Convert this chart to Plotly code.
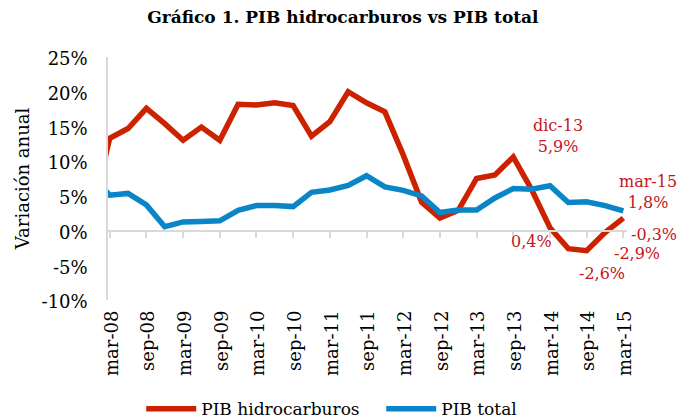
import plotly.graph_objects as go

# Quarterly periods (dic-07 lies just outside the visible axis range)
quarters = ["dic-07",
            "mar-08", "jun-08", "sep-08", "dic-08",
            "mar-09", "jun-09", "sep-09", "dic-09",
            "mar-10", "jun-10", "sep-10", "dic-10",
            "mar-11", "jun-11", "sep-11", "dic-11",
            "mar-12", "jun-12", "sep-12", "dic-12",
            "mar-13", "jun-13", "sep-13", "dic-13",
            "mar-14", "jun-14", "sep-14", "dic-14",
            "mar-15"]

pib_hidrocarburos = [2.0,
                     13.3, 14.7, 17.6, 15.4,
                     13.0, 14.9, 13.0, 18.2,
                     18.1, 18.4, 18.0, 13.6,
                     15.7, 20.0, 18.4, 17.1,
                     10.9, 4.1, 1.8, 2.9,
                     7.5, 8.0, 10.6, 5.9,
                     0.4, -2.6, -2.9, -0.3,
                     1.8]

pib_total = [8.0,
             5.1, 5.35, 3.7, 0.55,
             1.25, 1.3, 1.4, 2.9,
             3.6, 3.6, 3.45, 5.5,
             5.85, 6.5, 7.9, 6.3,
             5.8, 5.0, 2.6, 2.95,
             2.95, 4.7, 6.05, 5.95,
             6.45, 4.05, 4.15, 3.6,
             2.85]

x_idx = list(range(len(quarters)))
tick_idx = [i for i, q in enumerate(quarters) if q[:3] in ("mar", "sep")]
tick_txt = [quarters[i] for i in tick_idx]

y_vals = [-10, -5, 0, 5, 10, 15, 20, 25]
y_txt = [f"{v}%" for v in y_vals]

RED = "#CC2200"
BLUE = "#0A86C8"
LABEL_RED = "#C3161C"
FONT = "DejaVu Serif"

def fmt(v):
    return f"{v:.1f}%".replace(".", ",")

fig = go.Figure()
fig.add_trace(go.Scatter(x=x_idx, y=pib_hidrocarburos, mode="lines", name="PIB hidrocarburos",
                         line=dict(color=RED, width=5.5)))
fig.add_trace(go.Scatter(x=x_idx, y=pib_total, mode="lines", name="PIB total",
                         line=dict(color=BLUE, width=5.5)))
# empty trace to carry the zero-crossing category axis
fig.add_trace(go.Scatter(x=[], y=[], xaxis="x2", showlegend=False, hoverinfo="skip"))

xr = [0.907, 29.2]
ymin, ymax = -10, 25

# data labels
n = len(quarters)
i_dic13 = quarters.index("dic-13")
i_last = n - 1
annos = []
annos.append(dict(x=i_dic13, y=pib_hidrocarburos[i_dic13],
                  text=f"{quarters[i_dic13]}<br>{fmt(pib_hidrocarburos[i_dic13])}",
                  xshift=26, yshift=54))
annos.append(dict(x=i_last, y=pib_hidrocarburos[i_last],
                  text=f"{quarters[i_last]}<br>{fmt(pib_hidrocarburos[i_last])}",
                  xshift=25, yshift=26))
offsets = {"mar-14": (-18, -14), "jun-14": (34, -25), "sep-14": (50, -3), "dic-14": (49, -2)}
for q, (dx, dy) in offsets.items():
    i = quarters.index(q)
    annos.append(dict(x=i, y=pib_hidrocarburos[i], text=fmt(pib_hidrocarburos[i]),
                      xshift=dx, yshift=dy))
for a in annos:
    a.update(xref="x", yref="y", showarrow=False,
             font=dict(family=FONT, size=16, color=LABEL_RED),
             xanchor="center", yanchor="middle")

fig.update_layout(
    width=679, height=419,
    margin=dict(l=108, r=52, t=57, b=119, autoexpand=False),
    paper_bgcolor="white", plot_bgcolor="white",
    font=dict(family=FONT, size=18, color="black"),
    title=dict(text="<b>Gráfico 1. PIB hidrocarburos vs PIB total</b>",
               x=0.505, xref="container", xanchor="center",
               y=1 - 17 / 419, yref="container", yanchor="middle",
               font=dict(family=FONT, size=17, color="black")),
    xaxis=dict(range=xr, tickmode="array", tickvals=tick_idx, ticktext=tick_txt,
               tickangle=-90, showgrid=False, zeroline=False, showline=False,
               ticks="", ticklabelstandoff=6, ticklabelshift=2, tickfont=dict(size=18)),
    xaxis2=dict(range=xr, overlaying="x", anchor="free",
                position=(0 - ymin) / (ymax - ymin),
                tickmode="array", tickvals=tick_idx, showticklabels=False,
                ticks="outside", ticklen=6, tickwidth=1.5, tickcolor="#D9D9D9",
                showline=True, linecolor="#D9D9D9", linewidth=2,
                showgrid=False, zeroline=False),
    yaxis=dict(range=[ymin, ymax], tickmode="array", tickvals=y_vals, ticktext=y_txt,
               showgrid=False, zeroline=False, showline=True, linecolor="#D9D9D9",
               linewidth=1.5, ticks="", ticklabelstandoff=15, ticklabelshift=2,
               tickfont=dict(size=18),
               title=dict(text="Variación anual", font=dict(size=18), standoff=7)),
    legend=dict(orientation="h", x=0.064, xanchor="left", y=-0.375, yanchor="top",
                font=dict(family=FONT, size=17), itemwidth=50, entrywidth=175,
                bgcolor="rgba(0,0,0,0)"),
    annotations=annos,
    showlegend=True,
)

fig.write_html("out.html", config={"displayModeBar": False},
               post_script="document.body.style.margin='0';")
